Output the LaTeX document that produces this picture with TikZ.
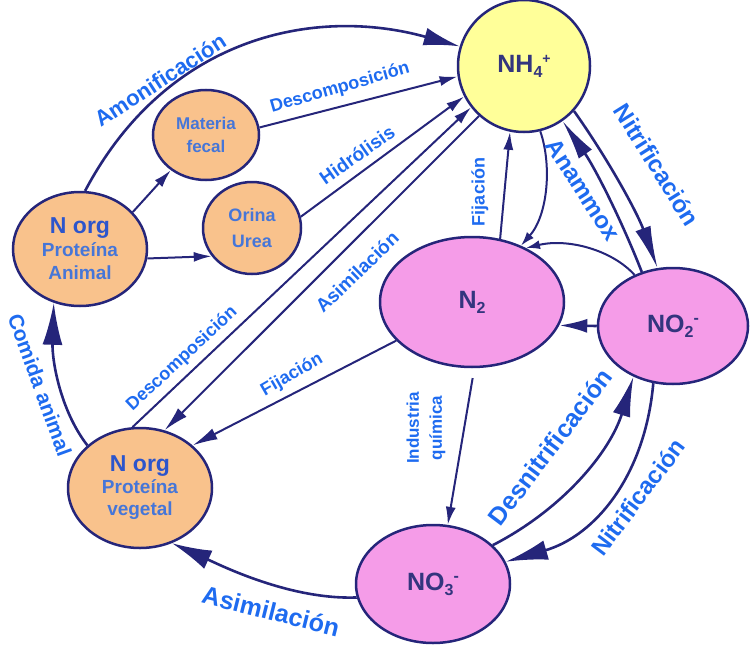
\documentclass[tikz,border=0pt]{standalone}
\usepackage{fontspec}
\setmainfont{Liberation Sans}
\usetikzlibrary{arrows.meta,shapes.geometric}
\definecolor{navy}{HTML}{25257A}
\definecolor{lblue}{HTML}{1E6BF0}
\definecolor{orgfill}{HTML}{F9C28C}
\definecolor{pinkfill}{HTML}{F59CE8}
\definecolor{yelfill}{HTML}{FFFF99}
\definecolor{chemtxt}{HTML}{33357E}
\definecolor{orgtxt}{HTML}{2C55CC}
\definecolor{orgtxtb}{HTML}{4676D8}
\newcommand\setfs[1]{\fontsize{#1}{#1}\selectfont}
\newcommand\setfsl[2]{\fontsize{#1}{#2}\selectfont}
\begin{document}
\begin{tikzpicture}[x=1pt,y=-1pt,
  nd/.style={ellipse, draw=navy, line width=2.5pt, inner sep=0pt, align=center},
  org/.style={nd, fill=orgfill, text=orgtxtb},
  pk/.style={nd, fill=pinkfill, text=chemtxt, font=\bfseries},
  lbl/.style={text=lblue, inner sep=0pt},
  conn/.style={draw=navy, line width=2pt},
  heavy/.style={draw=navy, line width=2.6pt},
  smallarr/.style={-{Latex[length=18pt,width=10pt]}},
  tinyarr/.style={-{Latex[length=14pt,width=9pt]}},
  medarr/.style={-{Latex[length=25pt,width=12pt]}}
]
\useasboundingbox (0,0) rectangle (750,645);

% nodes
\node[nd, fill=yelfill, text=chemtxt, font=\bfseries, minimum width=132pt, minimum height=132pt] (nh4) at (524,66)
  {\raisebox{-6pt}{\setfs{25}NH\raisebox{-5pt}{\setfs{16}4}\raisebox{9pt}{\setfs{14}+}}};
\node[pk, minimum width=184pt, minimum height=130pt] (n2) at (472,302)
  {\setfs{25}N\raisebox{-5pt}{\setfs{16}2}};
\node[pk, minimum width=150pt, minimum height=116pt] (no2) at (673,326)
  {\setfs{25}NO\raisebox{-5pt}{\setfs{16}2}\raisebox{9pt}{\setfs{16}-}};
\node[pk, minimum width=154pt, minimum height=118pt] (no3) at (433,584)
  {\setfs{25}NO\raisebox{-5pt}{\setfs{16}3}\raisebox{9pt}{\setfs{16}-}};
\node[org, font=\bfseries\setfsl{19}{23}, minimum width=134pt, minimum height=114pt] (anim) at (80,249)
  {{\color{orgtxt}\setfsl{23}{27}N org}\\Proteína\\Animal};
\node[org, font=\bfseries\setfsl{17}{23}, minimum width=106pt, minimum height=90pt] (fecal) at (206,135)
  {Materia\\fecal};
\node[org, font=\bfseries\setfsl{18}{26}, minimum width=98pt, minimum height=92pt] (orina) at (252,228)
  {Orina\\Urea};
\node[org, font=\bfseries\setfsl{19}{22}, minimum width=144pt, minimum height=120pt] (veg) at (140,488)
  {{\color{orgtxt}\setfsl{23}{27}N org}\\Proteína\\vegetal};

% connectors
\draw[heavy, -{Latex[length=36pt,width=18pt]}] (anim.85) .. controls (167,36) and (315,6) .. (nh4.163);
\draw[conn, smallarr] (anim.35) -- (fecal.225);
\draw[conn, smallarr] (anim.-8) -- (orina.215);
\draw[conn, smallarr] (fecal.8) -- (nh4.189);
\draw[conn, smallarr] (orina.13) -- (nh4.207);
\draw[conn, smallarr] (veg.97) -- (nh4.218);
\draw[conn, medarr] (nh4.228) -- (veg.67);
\draw[conn, medarr] (n2.207) -- (veg.39);
\draw[conn, smallarr] (n2.66) -- (nh4.258);
\draw[conn, tinyarr] (nh4.284) .. controls (552,165) and (548,215) .. (n2.49);
\draw[conn, tinyarr] (no2.127) .. controls (612,250) and (568,238) .. (n2.45);
\draw[heavy, -{Latex[length=42pt,width=16pt]}] (nh4.318) .. controls (608,159) and (637,212) .. (no2.105);
\draw[heavy, -{Latex[length=40pt,width=16pt]}] (no2.120) .. controls (621,219) and (595,168) .. (nh4.305);
\draw[heavy, -{Latex[length=28pt,width=14pt]}] (no2.west) -- (n2.-15);
\draw[conn, smallarr, shorten <=10pt] (n2.-88) -- (no3.76);
\draw[heavy, -{Latex[length=40pt,width=18pt]}] (no3.33) .. controls (563,509) and (610,452) .. (no2.232);
\draw[heavy, -{Latex[length=42pt,width=20pt]}] (no2.251) .. controls (645,476) and (595,536) .. (no3.17);
\draw[heavy, -{Latex[length=40pt,width=20pt]}] (no3.190) .. controls (290,600) and (220,565) .. (veg.300);
\draw[heavy, -{Latex[length=42pt,width=20pt]}] (veg.141) .. controls (60,410) and (52,360) .. (anim.244);

% labels
\node[lbl, rotate=33, font=\bfseries\setfs{22}] (lAmon) at (160,80) {Amonificación};
\node[lbl, rotate=16, font=\bfseries\setfs{18}] (lDesc1) at (340,88) {Descomposición};
\node[lbl, rotate=35, font=\bfseries\setfs{19}] (lHid) at (357,155) {Hidrólisis};
\node[lbl, rotate=44, font=\bfseries\setfs{19}] (lAsim1) at (357,272) {Asimilación};
\node[lbl, rotate=43, font=\bfseries\setfs{18}] (lDesc2) at (182,359) {Descomposición};
\node[lbl, rotate=30, font=\bfseries\setfs{18}] (lFij1) at (292,375) {Fijación};
\node[lbl, rotate=90, font=\bfseries\setfs{18}] (lFij2) at (480,192) {Fijación};
\node[lbl, rotate=-57, font=\bfseries\setfs{24}] (lAnam) at (583,190) {Anammox};
\node[lbl, rotate=-58, font=\bfseries\setfs{24}] (lNit1) at (657,165) {Nitrificación};
\node[lbl, rotate=90, align=center, font=\bfseries\setfsl{17}{23}] (lInd) at (426,428) {Industria\\química};
\node[lbl, rotate=53, font=\bfseries\setfs{25}] (lDes) at (550,447) {Desnitrificación};
\node[lbl, rotate=53, font=\bfseries\setfs{24}] (lNit2) at (638,497) {Nitrificación};
\node[lbl, rotate=-14, font=\bfseries\setfs{25}] (lAsim2) at (271,611) {Asimilación};
\node[lbl, rotate=-70, font=\bfseries\setfs{21}] (lCom) at (40,385) {Comida animal};
\end{tikzpicture}
\end{document}
